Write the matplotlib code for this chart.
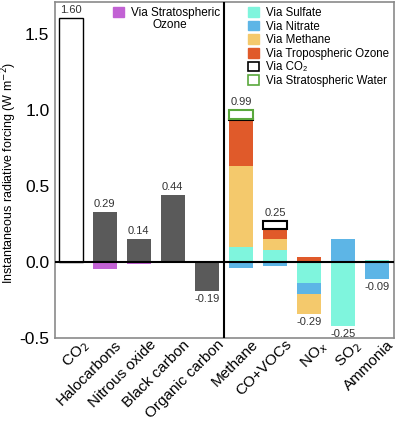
import numpy as np
import matplotlib
matplotlib.use('Agg')
import matplotlib.pyplot as plt
import matplotlib.transforms as mtransforms
from matplotlib.patches import Patch

plt.rcParams['font.family'] = ['Liberation Sans', 'DejaVu Sans']

# 数据：直接排放
direct_names = ['CO$_2$', 'Halocarbons', 'Nitrous oxide', 'Black carbon', 'Organic carbon']
direct_vals = [1.60, 0.33, 0.15, 0.44, -0.19]
strat_ozone = [0.0, -0.045, -0.015, 0.0, 0.0]
direct_labels = ['1.60', '0.29', '0.14', '0.44', '-0.19']

# 数据：前体物
precursor_names = ['Methane', 'CO+VOCs', 'NO$_x$', 'SO$_2$', 'Ammonia']
via_sulfate = [0.10, 0.08, -0.14, -0.42, 0.01]
via_nitrate = [-0.04, -0.03, -0.07, 0.15, -0.11]
via_methane = [0.53, 0.07, -0.13, 0.0, 0.0]
via_trop_ozone = [0.30, 0.065, 0.03, 0.0, 0.0]
via_co2 = [0.01, 0.055, 0.0, 0.0, 0.0]
via_strat_water = [0.06, 0.0, 0.0, 0.0, 0.0]
precursor_labels = ['0.99', '0.25', '-0.29', '-0.25', '-0.09']

# 颜色
c_sulfate = '#7ff5dd'
c_nitrate = '#5db5e6'
c_methane = '#f4c96c'
c_ozone = '#e05a2a'
c_purple = '#c262d4'
c_gray = '#5a5a5a'
c_green = '#5aa83c'

fig = plt.figure(figsize=(3.96, 4.22), dpi=100)
ax = fig.add_axes([0.139, 0.199, 0.856, 0.797])

width = 0.7
x_left = np.arange(len(direct_names))
x_right = np.arange(len(precursor_names)) + len(direct_names)

# 左侧柱子
for i, v in enumerate(direct_vals):
    if i == 0:
        ax.bar(x_left[i], v, width, color='white', edgecolor='black', linewidth=1.0)
    else:
        ax.bar(x_left[i], v, width, color=c_gray, edgecolor='none')
ax.bar(x_left, strat_ozone, width, color=c_purple, edgecolor='none')

# 右侧堆叠
series = [
    (via_sulfate, dict(color=c_sulfate, edgecolor='none')),
    (via_nitrate, dict(color=c_nitrate, edgecolor='none')),
    (via_methane, dict(color=c_methane, edgecolor='none')),
    (via_trop_ozone, dict(color=c_ozone, edgecolor='none')),
    (via_co2, dict(color='white', edgecolor='black', linewidth=1.5)),
    (via_strat_water, dict(color='white', edgecolor=c_green, linewidth=1.5)),
]
pos_bottom = np.zeros(len(precursor_names))
neg_bottom = np.zeros(len(precursor_names))
for vals, style in series:
    vals = np.array(vals)
    pos = np.where(vals > 0, vals, 0)
    neg = np.where(vals < 0, vals, 0)
    mask_p = pos > 0
    mask_n = neg < 0
    if mask_p.any():
        ax.bar(x_right[mask_p], pos[mask_p], width, bottom=pos_bottom[mask_p], **style)
    if mask_n.any():
        ax.bar(x_right[mask_n], neg[mask_n], width, bottom=neg_bottom[mask_n], **style)
    pos_bottom += pos
    neg_bottom += neg

# 数值标签
lab_kw = dict(ha='center', fontsize=8, color='#333333')
for i, lab in enumerate(direct_labels):
    v = direct_vals[i]
    if float(lab) >= 0:
        ax.text(x_left[i], v + 0.02, lab, va='bottom', **lab_kw)
    else:
        ax.text(x_left[i], v - 0.02, lab, va='top', **lab_kw)
for i, lab in enumerate(precursor_labels):
    if float(lab) >= 0:
        ax.text(x_right[i], pos_bottom[i] + 0.02, lab, va='bottom', **lab_kw)
    else:
        ax.text(x_right[i], neg_bottom[i] - 0.02, lab, va='top', **lab_kw)

ax.axhline(0, color='black', linewidth=1.5, zorder=3)
ax.axvline(4.5, color='black', linewidth=1.5, zorder=3)

ax.set_xlim(-0.46, 9.5)
ax.set_ylim(-0.5, 1.71)
ax.set_yticks([-0.5, 0.0, 0.5, 1.0, 1.5])
ax.set_yticklabels(['-0.5', '0.0', '0.5', '1.0', '1.5'], fontsize=12.5)
ax.set_xticks(np.concatenate([x_left, x_right]))
ax.set_xticklabels(direct_names + precursor_names, rotation=45, ha='right',
                   rotation_mode='anchor', fontsize=11)
ax.tick_params(length=0, pad=4)
# x 标签右移
offset = mtransforms.ScaledTranslation(0.10, 0.06, fig.dpi_scale_trans)
for lbl in ax.get_xticklabels():
    lbl.set_transform(lbl.get_transform() + offset)

ax.set_ylabel('Instantaneous radiative forcing (W m$^{-2}$)', fontsize=9)
ax.yaxis.set_label_coords(-0.105, 0.49)

for sp in ax.spines.values():
    sp.set_color('#8a8a8a')
    sp.set_linewidth(1.2)

# 图例
leg1 = ax.legend([Patch(color=c_purple)], ['Via Stratospheric'],
                 loc='upper left', bbox_to_anchor=(0.15, 1.005), frameon=False,
                 fontsize=8.5, handlelength=0.9, handleheight=0.9, handletextpad=0.6,
                 borderaxespad=0.2)
ax.add_artist(leg1)
ax.text(0.339, 0.932, 'Ozone', transform=ax.transAxes, ha='center', va='center',
        fontsize=8.5)

handles = [Patch(color=c_sulfate), Patch(color=c_nitrate), Patch(color=c_methane),
           Patch(color=c_ozone), Patch(facecolor='white', edgecolor='black', linewidth=1.2),
           Patch(facecolor='white', edgecolor=c_green, linewidth=1.2)]
names = ['Via Sulfate', 'Via Nitrate', 'Via Methane', 'Via Tropospheric Ozone',
         'Via CO\u2082', 'Via Stratospheric Water']
ax.legend(handles, names, loc='upper left', bbox_to_anchor=(0.55, 1.005), frameon=False,
          fontsize=8.3, handlelength=0.9, handleheight=0.9, handletextpad=0.6,
          labelspacing=0.14, borderaxespad=0.2)

fig.savefig('out.png', dpi=100)
